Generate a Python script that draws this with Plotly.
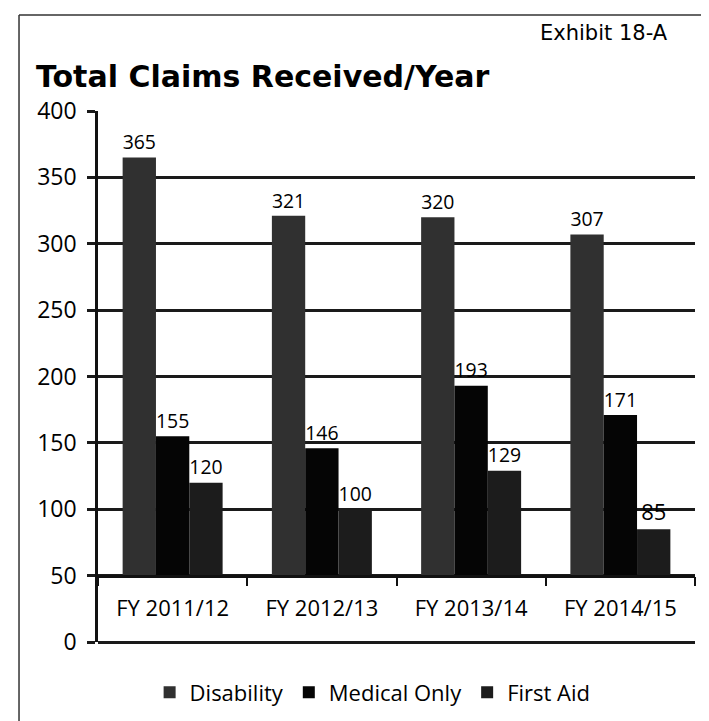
"""
Total claims received per fiscal year, grouped bar chart
"""
import plotly.graph_objects as go

categories = ["FY 2011/12", "FY 2012/13", "FY 2013/14", "FY 2014/15"]
disability = [365, 321, 320, 307]
medical_only = [155, 146, 193, 171]
first_aid = [120, 100, 129, 85]
y_ticks = [0, 50, 100, 150, 200, 250, 300, 350, 400]

# bars rise from the category axis, which crosses the value axis at 50
axis_base = 50

series = [
    ("Disability", disability, "#303030"),
    ("Medical Only", medical_only, "#050505"),
    ("First Aid", first_aid, "#1c1c1c"),
]

fig = go.Figure()
for name, values, color in series:
    fig.add_trace(go.Bar(
        name=name,
        x=categories,
        y=[v - axis_base for v in values],
        base=axis_base,
        text=[str(v) for v in values],
        textposition="outside",
        textfont=dict(family="Open Sans", size=22, color="black"),
        cliponaxis=False,
        marker=dict(color=color, line=dict(width=0)),
    ))

fig.update_layout(
    width=709,
    height=721,
    barmode="group",
    bargap=0.33,
    bargroupgap=0,
    plot_bgcolor="white",
    paper_bgcolor="white",
    margin=dict(l=90, r=22, t=103, b=87),
    font=dict(family="Open Sans", size=22, color="black"),
    title=dict(
        text="<b>Total Claims Received/Year</b>",
        x=28 / 709, xanchor="left",
        y=1 - 68 / 721, yanchor="middle",
        font=dict(family="DejaVu Sans", size=30, color="black"),
    ),
    legend=dict(
        orientation="h",
        x=0.46, xanchor="center",
        y=-0.095, yanchor="middle",
        font=dict(family="Open Sans", size=22, color="black"),
        itemsizing="constant",
    ),
    showlegend=True,
)

fig.update_xaxes(
    type="category",
    anchor="free",
    position=axis_base / 400,
    showline=True,
    linecolor="#111",
    linewidth=2.5,
    ticks="outside",
    tickson="boundaries",
    ticklen=9,
    tickwidth=2,
    tickcolor="#111",
    ticklabelstandoff=12,
    tickfont=dict(family="Open Sans", size=22, color="black"),
    showgrid=False,
)

fig.update_yaxes(
    range=[0, 400],
    tickvals=y_ticks,
    showgrid=True,
    gridcolor="#1a1a1a",
    gridwidth=2.5,
    zeroline=True,
    zerolinecolor="#1a1a1a",
    zerolinewidth=2.5,
    showline=True,
    linecolor="#111",
    linewidth=2.5,
    ticks="outside",
    ticklen=8,
    tickwidth=2.5,
    tickcolor="#1a1a1a",
    ticklabelstandoff=6,
    tickfont=dict(family="Open Sans", size=23, color="black"),
)

# exhibit tag in the top right corner
fig.add_annotation(
    text="Exhibit 18-A",
    xref="paper", yref="paper",
    x=(662 - 90) / 597, xanchor="right",
    y=(634 - 25) / 531, yanchor="middle",
    showarrow=False,
    font=dict(family="DejaVu Sans", size=21, color="black"),
)

# frame lines of the scanned exhibit (top and left edges)
fig.add_shape(type="line", xref="paper", yref="paper",
              x0=-0.1323, x1=1.04, y0=(634 - 7) / 531, y1=(634 - 7) / 531,
              line=dict(color="#333", width=1.5))
fig.add_shape(type="line", xref="paper", yref="paper",
              x0=-0.1323, x1=-0.1323, y0=(634 - 7) / 531, y1=-0.17,
              line=dict(color="#333", width=1.5))

fig.write_html("out.html")
